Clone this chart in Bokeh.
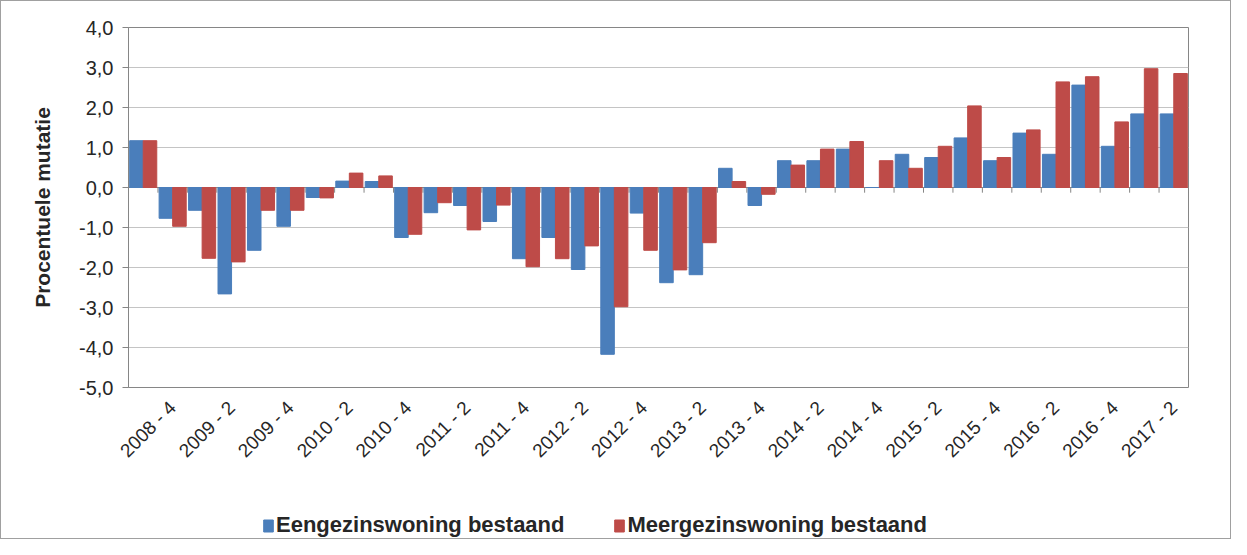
import math
from bokeh.plotting import figure
from bokeh.layouts import column
from bokeh.models import (ColumnDataSource, FixedTicker, CustomJSTickFormatter,
                          Legend, LegendItem, Span, Range1d)
from bokeh.transform import dodge
from bokeh.embed import file_html
from bokeh.resources import INLINE

# ---------------- data ----------------
quarters = [
    "2008 - 3", "2008 - 4",
    "2009 - 1", "2009 - 2", "2009 - 3", "2009 - 4",
    "2010 - 1", "2010 - 2", "2010 - 3", "2010 - 4",
    "2011 - 1", "2011 - 2", "2011 - 3", "2011 - 4",
    "2012 - 1", "2012 - 2", "2012 - 3", "2012 - 4",
    "2013 - 1", "2013 - 2", "2013 - 3", "2013 - 4",
    "2014 - 1", "2014 - 2", "2014 - 3", "2014 - 4",
    "2015 - 1", "2015 - 2", "2015 - 3", "2015 - 4",
    "2016 - 1", "2016 - 2", "2016 - 3", "2016 - 4",
    "2017 - 1", "2017 - 2",
]
eengezins = [1.17, -0.77, -0.57, -2.66, -1.57, -0.97, -0.25, 0.16, 0.15,
             -1.25, -0.63, -0.45, -0.85, -1.78, -1.25, -2.05, -4.17, -0.64,
             -2.38, -2.18, 0.48, -0.45, 0.67, 0.67, 0.96, 0.0, 0.83, 0.75,
             1.24, 0.67, 1.36, 0.83, 2.56, 1.03, 1.84, 1.84]
meergezins = [1.17, -0.97, -1.77, -1.86, -0.57, -0.57, -0.26, 0.36, 0.29,
              -1.17, -0.38, -1.06, -0.44, -1.98, -1.78, -1.46, -2.98, -1.57,
              -2.06, -1.38, 0.15, -0.17, 0.56, 0.96, 1.15, 0.67, 0.48, 1.03,
              2.04, 0.75, 1.44, 2.64, 2.77, 1.64, 2.97, 2.85]
series_names = ["Eengezinswoning bestaand", "Meergezinswoning bestaand"]
y_ticks = [-5, -4, -3, -2, -1, 0, 1, 2, 3, 4]
label_every = 2  # a label on every second quarter, starting at 2008 - 4

# ---------------- styling ----------------
BLUE = "#4A7EBB"
RED = "#BE4B48"
AXIS = "#868686"
GRID = "#C4C4C4"
TXT = "#262626"
FONT = "Liberation Sans"
W = 1229

n = len(quarters)
source = ColumnDataSource(dict(x=list(range(n)), blue=eengezins, red=meergezins))

p = figure(width=W, height=470, output_backend="svg", toolbar_location=None,
           x_range=(-0.5, n - 0.5), y_range=(y_ticks[0], y_ticks[-1]),
           min_border_left=127, min_border_right=42,
           min_border_top=26, min_border_bottom=84)
p.background_fill_color = "white"
p.border_fill_color = "white"
p.outline_line_color = AXIS
p.outline_line_width = 1

# category tick marks and the category axis line at zero
bounds = [i - 0.5 for i in range(n + 1)]
p.segment(x0=bounds, y0=[0] * len(bounds), x1=bounds, y1=[-0.13] * len(bounds),
          line_color=AXIS, line_width=1)
p.add_layout(Span(location=0, dimension="width", line_color=AXIS,
                  line_width=1, level="underlay"))

rb = p.vbar(x=dodge("x", -0.23), top="blue", bottom=0, width=0.46,
            source=source, fill_color=BLUE, line_color=BLUE)
rr = p.vbar(x=dodge("x", 0.23), top="red", bottom=0, width=0.46,
            source=source, fill_color=RED, line_color=RED)

# y axis
p.yaxis.ticker = FixedTicker(ticks=y_ticks)
p.yaxis.formatter = CustomJSTickFormatter(code="return tick.toFixed(1).replace('.', ',')")
p.yaxis.axis_label = "Procentuele mutatie"
p.yaxis.axis_label_text_font = FONT
p.yaxis.axis_label_text_font_style = "bold"
p.yaxis.axis_label_text_font_size = "21px"
p.yaxis.axis_label_text_color = TXT
p.yaxis.axis_label_standoff = 22
p.yaxis.major_label_text_font = FONT
p.yaxis.major_label_text_font_size = "20px"
p.yaxis.major_label_text_color = TXT
p.yaxis.major_label_standoff = 9
p.yaxis.axis_line_color = AXIS
p.yaxis.major_tick_line_color = AXIS
p.yaxis.major_tick_out = 6
p.yaxis.major_tick_in = 0
p.yaxis.minor_tick_line_color = None

# x axis (labels only, the line is at zero)
p.xaxis.ticker = FixedTicker(ticks=list(range(1, n, label_every)))
p.xaxis.formatter = CustomJSTickFormatter(args=dict(labels=quarters),
                                          code="return labels[Math.round(tick)] || ''")
p.xaxis.major_label_orientation = math.pi / 4
p.xaxis.major_label_text_font = FONT
p.xaxis.major_label_text_font_size = "19px"
p.xaxis.major_label_text_color = TXT
p.xaxis.major_label_standoff = 11
p.xaxis.axis_line_color = None
p.xaxis.major_tick_line_color = None
p.xaxis.minor_tick_line_color = None

p.xgrid.grid_line_color = None
p.ygrid.grid_line_color = GRID
p.ygrid.grid_line_width = 1

# ---------------- legend strip ----------------
lf = figure(width=W, height=67, output_backend="svg", toolbar_location=None,
            x_range=Range1d(1000, 1001), y_range=Range1d(1000, 1001),
            x_axis_location=None, y_axis_location=None,
            min_border=0)
lf.outline_line_color = None
lf.grid.grid_line_color = None
lf.background_fill_color = "white"
lf.border_fill_color = "white"
lb = lf.vbar(x="x", top="blue", width=0.46, source=source,
             fill_color=BLUE, line_color=BLUE)
lr = lf.vbar(x="x", top="red", width=0.46, source=source,
             fill_color=RED, line_color=RED)
leg = Legend(items=[LegendItem(label=series_names[0], renderers=[lb]),
                    LegendItem(label=series_names[1], renderers=[lr])],
             location=(134, 0), orientation="horizontal",
             padding=0, margin=0, spacing=49,
             border_line_color=None, background_fill_alpha=0,
             glyph_width=12, glyph_height=15, label_standoff=2,
             label_text_font=FONT, label_text_font_style="bold",
             label_text_font_size="22px", label_text_color=TXT)
lf.add_layout(leg)

layout = column(p, lf, spacing=0, styles={"border": "1px solid #A0A0A0"})

open("out.html", "w").write(file_html(layout, INLINE))
